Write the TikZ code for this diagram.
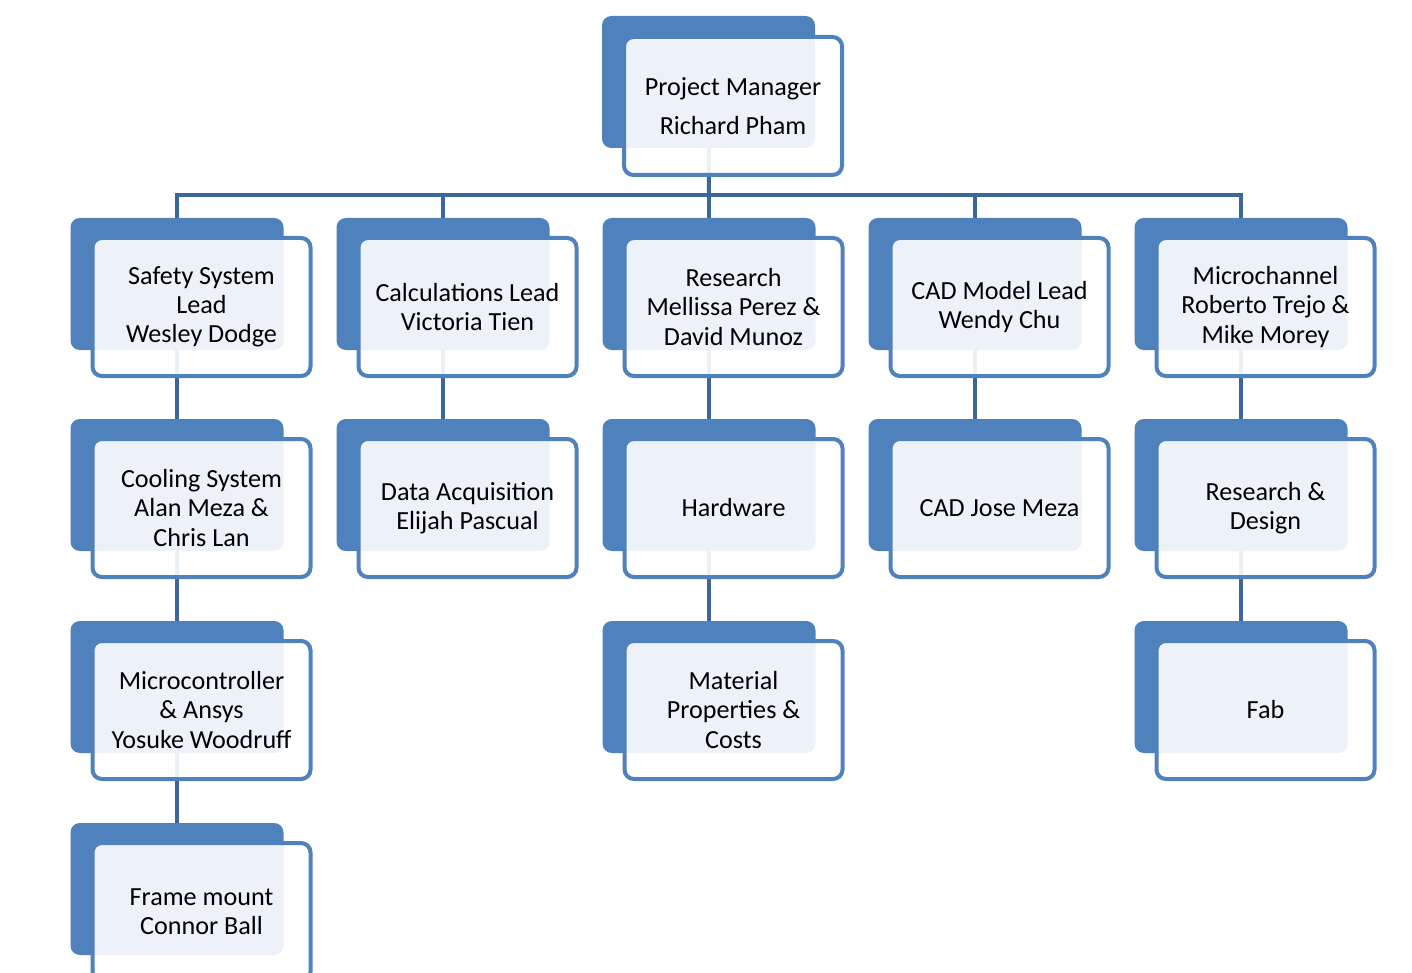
\documentclass[tikz,border=0pt]{standalone}
\usepackage{fontspec}
\setmainfont{Carlito}
\usetikzlibrary{calc,positioning,backgrounds}

\definecolor{smartblue}{HTML}{4F81BD}
\definecolor{linkblue}{HTML}{3C679A}

\begin{document}
\begin{tikzpicture}[
    x=0.75pt,y=-0.75pt,
    backbox/.style={rectangle,rounded corners=7pt,fill=smartblue,inner sep=0pt,minimum width=159.75pt,minimum height=99pt},
    frontbox/.style={rectangle,rounded corners=7pt,draw=smartblue,line width=3pt,fill=white,fill opacity=0.9,text opacity=1,
      inner sep=0pt,minimum width=163.5pt,minimum height=103.5pt,align=center,font=\fontsize{19.6}{21.8}\selectfont},
    link/.style={draw=linkblue,line width=3pt}
    ]

    \useasboundingbox (0,0) rectangle (1412,973);
    \clip (0,0) rectangle (1412,973);

    % top
    \node(pmb) [backbox] at (708.5,82) {};
    \node(pm) [frontbox] at ([shift={(24.5,24)}]pmb.center) {Project Manager\\[8pt]Richard Pham};

    % first row
    \node(safeb) [backbox] at (177,284) {};
    \node(safe) [frontbox] at ([shift={(24.5,23)}]safeb.center) {Safety System\\Lead\\Wesley Dodge};
    \node(calcb) [backbox] at (443,284) {};
    \node(calc) [frontbox] at ([shift={(24.5,23)}]calcb.center) {Calculations Lead\\Victoria Tien};
    \node(resb) [backbox] at (709,284) {};
    \node(res) [frontbox] at ([shift={(24.5,23)}]resb.center) {Research\\Mellissa Perez \&\\David Munoz};
    \node(cadb) [backbox] at (975,284) {};
    \node(cad) [frontbox] at ([shift={(24.5,23)}]cadb.center) {CAD Model Lead\\Wendy Chu};
    \node(microb) [backbox] at (1241,284) {};
    \node(micro) [frontbox] at ([shift={(24.5,23)}]microb.center) {Microchannel\\Roberto Trejo \&\\Mike Morey};

    % second row
    \node(coolb) [backbox] at (177,485) {};
    \node(cool) [frontbox] at ([shift={(24.5,23)}]coolb.center) {Cooling System\\Alan Meza \&\\Chris Lan};
    \node(daqb) [backbox] at (443,485) {};
    \node(daq) [frontbox] at ([shift={(24.5,23)}]daqb.center) {Data Acquisition\\Elijah Pascual};
    \node(hwb) [backbox] at (709,485) {};
    \node(hw) [frontbox] at ([shift={(24.5,23)}]hwb.center) {Hardware};
    \node(jmb) [backbox] at (975,485) {};
    \node(jm) [frontbox] at ([shift={(24.5,23)}]jmb.center) {CAD Jose Meza};
    \node(rdb) [backbox] at (1241,485) {};
    \node(rd) [frontbox] at ([shift={(24.5,23)}]rdb.center) {Research \&\\Design};

    % third row
    \node(mcub) [backbox] at (177,687) {};
    \node(mcu) [frontbox] at ([shift={(24.5,23)}]mcub.center) {Microcontroller\\\& Ansys\\Yosuke Woodruff};
    \node(matb) [backbox] at (709,687) {};
    \node(mat) [frontbox] at ([shift={(24.5,23)}]matb.center) {Material\\Properties \&\\Costs};
    \node(fabb) [backbox] at (1241,687) {};
    \node(fab) [frontbox] at ([shift={(24.5,23)}]fabb.center) {Fab};

    % fourth row
    \node(frameb) [backbox] at (177,889) {};
    \node(frame) [frontbox] at ([shift={(24.5,23)}]frameb.center) {Frame mount\\Connor Ball};

    % connectors
    \begin{scope}[on background layer]
      \coordinate(bus) at (709,195);
      \draw[link] (pmb) -- (bus);
      \draw[link] (bus) -| (safeb);
      \draw[link] (bus) -| (calcb);
      \draw[link] (bus) -- (resb);
      \draw[link] (bus) -| (cadb);
      \draw[link] (bus) -| (microb);
      \draw[link] (safeb) -- (coolb);
      \draw[link] (coolb) -- (mcub);
      \draw[link] (mcub) -- (frameb);
      \draw[link] (calcb) -- (daqb);
      \draw[link] (resb) -- (hwb);
      \draw[link] (hwb) -- (matb);
      \draw[link] (cadb) -- (jmb);
      \draw[link] (microb) -- (rdb);
      \draw[link] (rdb) -- (fabb);
    \end{scope}

  \end{tikzpicture}
\end{document}
